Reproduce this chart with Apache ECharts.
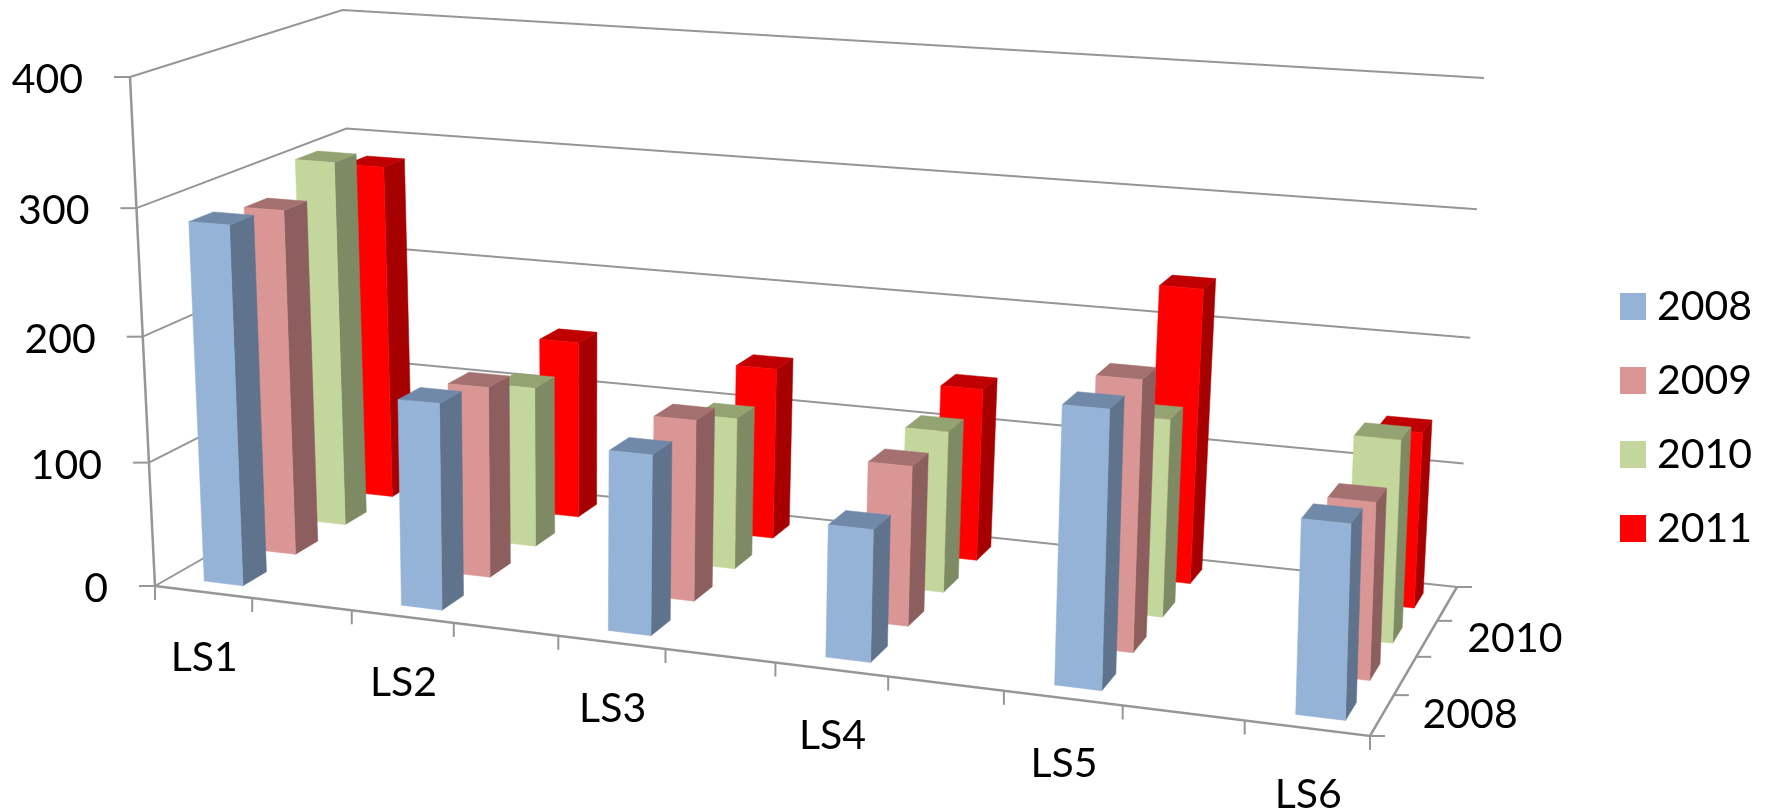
<!DOCTYPE html>
<html>
<head>
<meta charset="utf-8">
<title>LS 2008-2011</title>
<script src="https://cdn.jsdelivr.net/npm/echarts@6/dist/echarts.min.js"></script>
<style>
  html, body { margin: 0; background: #fff; }
  #chart { width: 1772px; height: 811px; }
</style>
</head>
<body>
<div id="chart"></div>
<script>
const categories = ['LS1', 'LS2', 'LS3', 'LS4', 'LS5', 'LS6'];
const years = ['2008', '2009', '2010', '2011'];
const values2008 = [287, 163, 140, 101, 207, 142];
const values2009 = [281, 154, 144, 125, 207, 133];
const values2010 = [303, 132, 123, 129, 155, 156];
const values2011 = [283, 149, 142, 141, 236, 139];
const valueTicks = [0, 100, 200, 300, 400];
const depthLabels = ['2008', '', '2010', ''];

// front-left, front-right, back-left, back-right corners of the box, in pixels
const floorCorners = [[155, 586], [1370, 736], [358, 470], [1457, 587]];
const roofCorners = [[130, 77], [1385, 160], [342.5, 10], [1484, 78]];
const heightPerspective = -0.04;

const tickCount = 11;
const barWidth = 0.4;    // in tick units
const barCentre = 0.55;  // from the first tick of a category, in tick units
const labelCentre = 0.51;
const barDepth = 0.11;   // in share of the floor depth

const fontFamily = 'Lato';
const fontSize = 41;
const lineColor = '#969696';

function planePoint(q, u, v) {
    const [o, a, b, t] = q;
    // solve the two perspective weights of the quad
    const a1 = a[0] - t[0], b1 = b[0] - t[0], c1 = t[0] - a[0] - b[0] + o[0];
    const a2 = a[1] - t[1], b2 = b[1] - t[1], c2 = t[1] - a[1] - b[1] + o[1];
    const det = a1 * b2 - a2 * b1;
    const p = (c1 * b2 - c2 * b1) / det;
    const r = (a1 * c2 - a2 * c1) / det;
    const d = 1 + p * u + r * v;
    return [0, 1].map(i =>
        (o[i] + u * ((1 + p) * a[i] - o[i]) + v * ((1 + r) * b[i] - o[i])) / d
    );
}

function project(u, v, w) {
    const f = planePoint(floorCorners, u, v);
    const g = planePoint(roofCorners, u, v);
    const t = w * (1 + heightPerspective) / (1 + heightPerspective * w);
    return [f[0] + (g[0] - f[0]) * t, f[1] + (g[1] - f[1]) * t];
}

// the hidden grid fills the canvas, so a coord gives u and w as shares of it
function toBox(api, tick, value) {
    const c = api.coord([tick, value]);
    return [c[0] / api.getWidth(), 1 - c[1] / api.getHeight()];
}

function line(points, width) {
    return {
        type: 'polyline',
        shape: { points: points },
        style: { stroke: lineColor, lineWidth: width || 2, fill: null }
    };
}

function label(text, x, y, align) {
    return {
        type: 'text',
        style: {
            text: text, x: x, y: y, fill: '#000',
            fontFamily: fontFamily, fontSize: fontSize,
            align: align, verticalAlign: 'middle'
        }
    };
}

function renderValueTick(params, api) {
    const w = toBox(api, 0, api.value(0))[1];
    const a = project(0, 0, w), b = project(0, 1, w), c = project(1, 1, w);
    return {
        type: 'group',
        children: [
            line([a, b, c]),
            line([[a[0] - 16, a[1]], a]),
            label(String(api.value(0)), a[0] - 47, a[1] + 3, 'right')
        ]
    };
}

function renderCategoryTick(params, api) {
    const u = toBox(api, api.value(0), 0)[0];
    const a = project(u, 0, 0);
    return line([a, [a[0], a[1] + 14]]);
}

function renderCategoryLabel(params, api) {
    const u = toBox(api, api.value(0) * 2 + labelCentre, 0)[0];
    const a = project(u, 0, 0);
    return label(categories[api.value(0)], a[0], a[1] + 66, 'center');
}

function renderDepthTick(params, api) {
    const a = project(1, api.value(0) / years.length, 0);
    return line([a, [a[0] + 15, a[1]]]);
}

function renderDepthLabel(params, api) {
    const a = project(1, (api.value(0) + 0.5) / years.length, 0);
    return label(depthLabels[api.value(0)], a[0] + 88, a[1], 'center');
}

function renderFloor(params, api) {
    return {
        type: 'group',
        children: [
            line([project(0, 0, 0), project(1, 0, 0), project(1, 1, 0)], 2.5),
            line([project(0, 0, 0), project(0, 0, 1)], 2.5)
        ]
    };
}

function barRenderer(k, colors) {
    return function (params, api) {
        const tick = api.value(0) * 2 + barCentre;
        const value = api.value(1);
        const [u0] = toBox(api, tick - barWidth / 2, 0);
        const [u1, w] = toBox(api, tick + barWidth / 2, value);
        const v0 = (k + 0.5) / years.length - barDepth / 2;
        const v1 = v0 + barDepth;
        const face = (points, fill) => ({
            type: 'polygon',
            shape: { points: points },
            style: { fill: fill, stroke: fill, lineWidth: 0.5 }
        });
        return {
            type: 'group',
            children: [
                face([project(u1, v0, 0), project(u1, v1, 0), project(u1, v1, w), project(u1, v0, w)], colors[1]),
                face([project(u0, v0, w), project(u1, v0, w), project(u1, v1, w), project(u0, v1, w)], colors[2]),
                face([project(u0, v0, 0), project(u1, v0, 0), project(u1, v0, w), project(u0, v0, w)], colors[0])
            ]
        };
    };
}

function frameSeries(data, renderItem) {
    return {
        type: 'custom', silent: true, z: 1, clip: false,
        data: data, renderItem: renderItem
    };
}

function barSeries(k, values, colors) {
    return {
        name: years[k],
        type: 'custom',
        z: 10 - k,
        clip: false,
        itemStyle: { color: colors[0] },
        data: values.map((v, i) => [i, v]),
        encode: { x: 0, y: 1 },
        renderItem: barRenderer(k, colors)
    };
}

const chart = echarts.init(document.getElementById('chart'));
chart.setOption({
    backgroundColor: '#ffffff',
    animation: false,
    grid: { left: 0, right: 0, top: 0, bottom: 0 },
    xAxis: { type: 'value', min: 0, max: tickCount, show: false },
    yAxis: { type: 'value', min: 0, max: 400, show: false },
    legend: {
        data: years,
        orient: 'vertical',
        left: 1620,
        top: 286,
        padding: 0,
        icon: 'rect',
        itemWidth: 26,
        itemHeight: 27,
        itemGap: 33,
        textStyle: { fontFamily: fontFamily, fontSize: fontSize, color: '#000', lineHeight: 41, padding: [0, 0, 0, 6] }
    },
    series: [
        frameSeries(valueTicks.map(v => [v]), renderValueTick),
        frameSeries([[0]], renderFloor),
        frameSeries(Array.from({ length: tickCount + 1 }, (_, i) => [i]), renderCategoryTick),
        frameSeries(categories.map((c, i) => [i]), renderCategoryLabel),
        frameSeries(Array.from({ length: years.length + 1 }, (_, i) => [i]), renderDepthTick),
        frameSeries(years.map((y, i) => [i]), renderDepthLabel),
        barSeries(0, values2008, ['#95B3D7', '#5F738C', '#7189A9']),
        barSeries(1, values2009, ['#D99694', '#8C5F5E', '#A57170']),
        barSeries(2, values2010, ['#C3D69B', '#7E8A63', '#94A372']),
        barSeries(3, values2011, ['#FF0000', '#A60000', '#C00000'])
    ]
});
</script>
</body>
</html>
